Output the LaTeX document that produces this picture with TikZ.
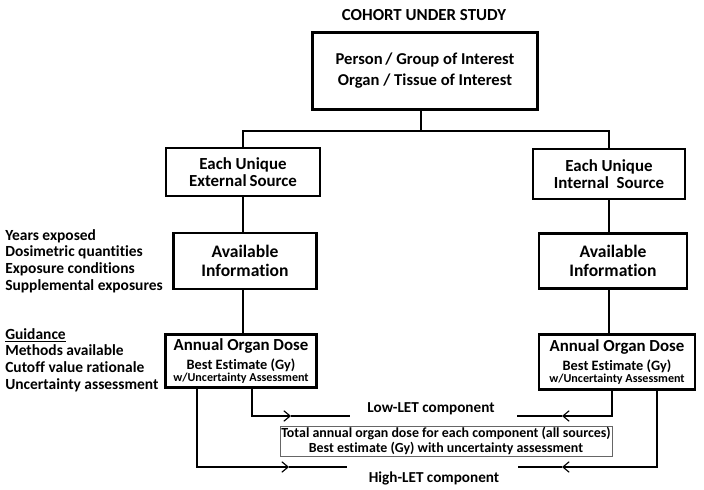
\documentclass[tikz,border=0pt]{standalone}
\usepackage{fontspec}
\setmainfont{Carlito}[Ligatures=NoCommon]
\usetikzlibrary{arrows.meta}

\newcommand{\fs}[2]{\bfseries\fontsize{#1}{#2}\selectfont}

\begin{document}
\begin{tikzpicture}[
        x=0.025cm, y=-0.025cm,
        font=\bfseries,
        box/.style={draw, line width=1.6pt, align=center, inner sep=0pt},
        link/.style={line width=1.6pt},
        barb/.style={link, -{Straight Barb[length=4.5pt, width=7.5pt, line width=0.8pt]}},
    ]

    \def\u{0.025cm}

    \useasboundingbox (0,0) rectangle (704,490);

    % cohort
    \node[font=\fs{12}{14}] (title) at (424,15) {COHORT UNDER STUDY};
    \node[box, minimum width=225*\u, minimum height=77*\u, font=\fs{11.8}{15}] (top) at (425,71)
        {Person\,/ Group of Interest\\Organ / Tissue of Interest};
    \coordinate (split) at (421,131);

    % sources
    \node[box, minimum width=154*\u, minimum height=48*\u, font=\fs{12}{11.6}] (ext) at (243,172)
        {Each Unique\\External\,Source};
    \node[box, minimum width=152*\u, minimum height=50*\u, font=\fs{12}{11.6}] (int) at (609,174)
        {Each Unique\\Internal\ \ Source};

    % available information
    \node[box, minimum width=143*\u, minimum height=56*\u, font=\fs{12.5}{13}] (availL) at (245,261)
        {Available\\Information};
    \node[box, minimum width=148*\u, minimum height=55*\u, font=\fs{12.5}{13}] (availR) at (613,261)
        {Available\\Information};

    % annual organ dose
    \node[box, minimum width=151*\u, minimum height=53*\u, font=\fs{12}{13}] (annL) at (241,361)
        {Annual Organ Dose\\[1pt]
         {\fs{10.2}{11}Best Estimate (Gy)}\\[-4.5pt]
         {\fs{8.6}{9}w/Uncertainty Assessment}};
    \node[box, minimum width=156*\u, minimum height=55*\u, font=\fs{12}{13}] (annR) at (617,362)
        {Annual Organ Dose\\[1pt]
         {\fs{10.2}{11}Best Estimate (Gy)}\\[-4.5pt]
         {\fs{8.6}{9}w/Uncertainty Assessment}};

    % side notes
    \node[anchor=west, align=left, inner sep=0pt, font=\fs{11}{11.9}] (info) at (5,261)
        {Years exposed\\Dosimetric quantities\\Exposure conditions\\Supplemental exposures};
    \node[anchor=west, align=left, inner sep=0pt, font=\fs{11}{11.9}] (guide) at (5,360)
        {\underline{Guidance}\\Methods available\\Cutoff value rationale\\Uncertainty assessment};

    % totals
    \node[draw=black!60, line width=0.6pt, minimum width=332*\u, minimum height=30*\u,
          align=center, inner sep=0pt, font=\fs{9.9}{10.7}] (total) at (446,441)
        {Total annual organ dose for each component (all sources)\\
         Best estimate (Gy) with uncertainty assessment};
    \node[font=\fs{10.8}{12}] (low) at (431,409) {Low-LET component};
    \node[font=\fs{10.8}{12}] (high) at (434,478) {High-LET component};

    \coordinate (lowLx) at (252,416);
    \coordinate (lowLmid) at (291,416);
    \coordinate (lowLend) at (350,416);
    \coordinate (lowRx) at (612,416);
    \coordinate (lowRmid) at (562,416);
    \coordinate (lowRend) at (517,416);
    \coordinate (highLx) at (197,467);
    \coordinate (highLmid) at (289,467);
    \coordinate (highLend) at (347,467);
    \coordinate (highRx) at (657,467);
    \coordinate (highRmid) at (562,467);
    \coordinate (highRend) at (518,467);

    % tree
    \draw[link] (top.south -| split) -- (split);
    \draw[link] (ext.north) |- (split) -| (int.north);
    \draw[link] (ext.south) -- (ext.south |- availL.north);
    \draw[link] (availL.south -| ext.south) -- (annL.north -| ext.south);
    \draw[link] (int.south) -- (int.south |- availR.north);
    \draw[link] (availR.south -| int.south) -- (annR.north -| int.south);

    % components
    \draw[barb] (annL.south -| lowLx) |- (lowLmid);
    \draw[link] (lowLmid) -- (lowLend);
    \draw[barb] (annR.south -| lowRx) |- (lowRmid);
    \draw[link] (lowRmid) -- (lowRend);
    \draw[barb] (annL.south -| highLx) |- (highLmid);
    \draw[link] (highLmid) -- (highLend);
    \draw[barb] (annR.south -| highRx) |- (highRmid);
    \draw[link] (highRmid) -- (highRend);

\end{tikzpicture}
\end{document}
